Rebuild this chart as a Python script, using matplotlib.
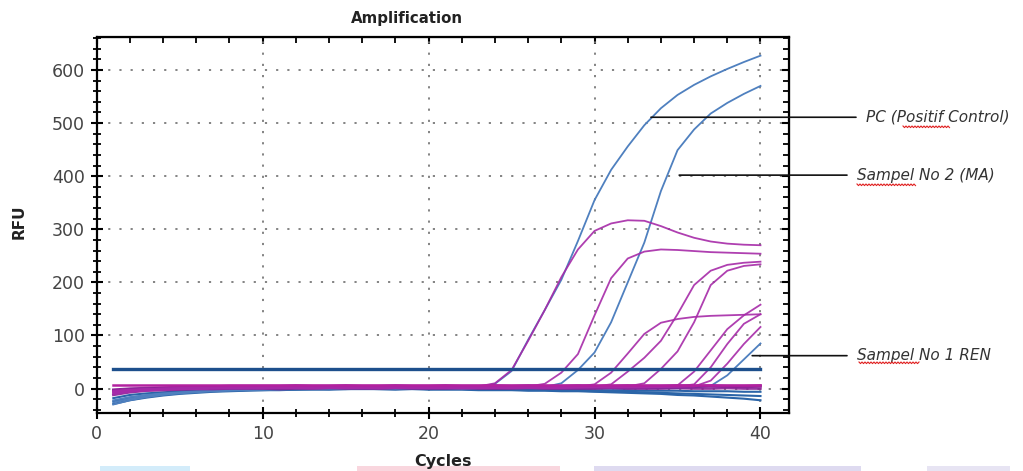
import numpy as np
import matplotlib
matplotlib.use('Agg')
import matplotlib.pyplot as plt
import matplotlib.transforms as mtransforms
from matplotlib.ticker import MultipleLocator
from matplotlib.patches import Rectangle

# Datos (RFU por ciclo, ciclos 1..40)
cycles = list(range(1, 41))

# canal azul (FAM)
pc = [-22, -16, -12, -9, -7, -5, -4, -3, -2, -1,
      -1, 0, 0, 1, 0, 1, 1, 0, 1, 2,
      1, 2, 3, 9, 33, 92, 148, 205, 278, 355,
      412, 456, 496, 528, 553, 572, 588, 602, 615, 627]
ma = [-26, -19, -14, -10, -8, -6, -4, -3, -2, -2,
      -1, -1, 0, 0, 1, 0, 1, 0, 1, 1,
      0, 1, 1, 2, 2, 2, 3, 10, 35, 68,
      125, 200, 275, 372, 449, 488, 518, 538, 555, 570]
ren = [-30, -22, -16, -12, -9, -7, -5, -4, -3, -2,
       -2, -1, -1, 0, -1, 0, 0, 1, 0, 0,
       1, 0, 0, 1, 0, 1, 0, 0, 1, 0,
       0, 1, 0, 1, 1, 2, 5, 25, 55, 85]
blue_neg1 = [-18, -12, -9, -7, -5, -4, -3, -2, -2, -1,
             -1, 0, 0, -1, 0, 0, 1, 0, 0, -1,
             0, 0, -1, 0, -1, -1, -2, -2, -2, -3,
             -3, -3, -4, -4, -4, -5, -5, -5, -6, -6]
blue_neg2 = [-24, -17, -13, -10, -8, -6, -5, -4, -3, -3,
             -2, -2, -1, -1, -1, 0, -1, -1, 0, -1,
             -1, -1, -2, -2, -2, -3, -3, -4, -4, -5,
             -5, -6, -7, -8, -9, -10, -11, -12, -13, -14]
blue_neg3 = [-29, -22, -17, -13, -10, -8, -6, -5, -4, -3,
             -3, -2, -2, -2, -1, -1, -1, -2, -1, -2,
             -2, -2, -3, -3, -3, -4, -4, -5, -5, -6,
             -7, -8, -9, -10, -12, -13, -15, -17, -19, -22]

# canal magenta (HEX)
m1 = [-6, -3, -1, 0, 1, 2, 2, 3, 3, 2,
      3, 3, 2, 3, 3, 2, 3, 3, 2, 3,
      3, 4, 4, 10, 35, 90, 148, 210, 262, 297,
      311, 317, 316, 306, 294, 284, 277, 273, 271, 270]
m2 = [-8, -4, -2, -1, 0, 1, 1, 2, 2, 2,
      2, 3, 2, 2, 3, 2, 3, 2, 2, 3,
      3, 2, 3, 3, 3, 4, 9, 30, 65, 138,
      208, 245, 258, 262, 261, 259, 257, 256, 255, 254]
m3 = [-7, -4, -2, -1, 0, 0, 1, 1, 1, 2,
      1, 2, 2, 1, 2, 2, 2, 1, 2, 2,
      3, 2, 2, 3, 2, 3, 3, 3, 3, 4,
      8, 32, 58, 90, 140, 195, 222, 233, 237, 239]
m4 = [-4, -2, -1, 0, 1, 1, 1, 2, 2, 1,
      2, 2, 2, 3, 2, 2, 3, 2, 2, 2,
      3, 3, 2, 2, 3, 3, 2, 3, 3, 3,
      4, 4, 10, 37, 70, 125, 195, 222, 231, 234]
m5 = [-5, -3, -1, 0, 0, 1, 1, 2, 1, 2,
      2, 2, 1, 2, 2, 3, 2, 2, 3, 2,
      2, 3, 2, 3, 3, 2, 3, 3, 4, 8,
      30, 66, 103, 124, 131, 135, 137, 138, 139, 140]
l1 = [-9, -5, -3, -2, -1, 0, 0, 1, 1, 1,
      1, 2, 1, 1, 2, 1, 2, 2, 1, 2,
      2, 1, 2, 2, 2, 3, 2, 2, 3, 3,
      3, 3, 4, 4, 6, 32, 72, 112, 138, 158]
l2 = [-6, -4, -2, -1, 0, 0, 1, 1, 0, 1,
      1, 1, 2, 1, 1, 2, 1, 1, 2, 1,
      2, 2, 1, 2, 2, 1, 2, 2, 2, 3,
      2, 3, 3, 3, 4, 8, 40, 84, 122, 140]
l3 = [-10, -6, -4, -2, -1, -1, 0, 0, 1, 0,
      1, 1, 0, 1, 1, 1, 0, 1, 1, 1,
      1, 0, 1, 1, 1, 2, 1, 1, 2, 2,
      2, 2, 2, 3, 3, 4, 15, 47, 84, 116]
f1 = [-3, -1, 0, 1, 2, 2, 3, 3, 3, 4, 3, 4, 4, 3, 4, 4, 3, 4, 4, 4,
      3, 4, 4, 3, 4, 4, 4, 3, 4, 4, 3, 4, 4, 4, 3, 4, 4, 4, 3, 4]
f2 = [-12, -7, -4, -3, -2, -1, -1, 0, 0, 0, -1, 0, 0, 1, 0, 0, 0, 1, 0, 0,
      0, 1, 0, 0, 0, 1, 0, 0, 0, 0, 1, 0, 0, 0, 1, 0, 0, 1, 0, 0]
f3 = [-2, 0, 1, 2, 3, 4, 4, 5, 5, 5, 5, 6, 5, 5, 6, 5, 5, 6, 5, 5,
      6, 5, 5, 6, 5, 6, 5, 5, 6, 5, 5, 6, 5, 5, 6, 5, 6, 5, 5, 6]

blue_threshold = 37
hex_threshold = 7

x_ticks = [0, 10, 20, 30, 40]
y_ticks = [0, 100, 200, 300, 400, 500, 600]

# etiquetas con línea guía: (texto, ciclo, RFU)
labels = [
    ("PC (Positif Control)", 33.4, 511),
    ("Sampel No 2 (MA)", 35.1, 402),
    ("Sampel No 1 REN", 39.5, 62),
]

W, H = 1023, 471
fig = plt.figure(figsize=(W / 100, H / 100), dpi=100)
ax = fig.add_axes([96.7 / W, 1 - 412.7 / H, 692 / W, 376 / H])

BLUE = '#4f80bf'
BLUE_DARK = '#2b65a8'
MAG = '#a62aa8'

for s in [blue_neg1, blue_neg2, blue_neg3]:
    ax.plot(cycles, s, color=BLUE_DARK, lw=1.5, zorder=3)
for s in [pc, ma, ren]:
    ax.plot(cycles, s, color=BLUE, lw=1.3, zorder=3)
for s in [f1, f2, f3]:
    ax.plot(cycles, s, color='#8a1f96', lw=1.8, alpha=0.9, zorder=4)
for s in [m1, m2, m3, m4, m5, l1, l2, l3]:
    ax.plot(cycles, s, color=MAG, lw=1.3, alpha=0.9, zorder=4)

ax.plot([cycles[0], cycles[-1]], [blue_threshold] * 2, color='#1d4f8c', lw=2.4, zorder=5)
ax.plot([cycles[0], cycles[-1]], [hex_threshold] * 2, color='#b3219f', lw=1.8, zorder=5)

ax.set_xlim(0, 41.7)
ax.set_ylim(-45.4, 662.7)
ax.xaxis.set_minor_locator(MultipleLocator(2))
ax.yaxis.set_minor_locator(MultipleLocator(20))
ax.set_xticks(x_ticks)
ax.set_yticks(y_ticks)

ax.grid(True, which='major', color='#7a7a7a', lw=1.3, linestyle=(0, (1.2, 5)))
for sp in ax.spines.values():
    sp.set_linewidth(1.6)
ax.tick_params(which='major', direction='inout', length=9, width=1.5,
               labelsize=12.5, labelcolor='#444444', pad=4)
ax.tick_params(which='minor', direction='inout', length=6, width=1.3)

# ticks hacia adentro arriba y a la derecha
axt = ax.secondary_xaxis('top')
axt.xaxis.set_major_locator(MultipleLocator(10))
axt.xaxis.set_minor_locator(MultipleLocator(2))
axt.tick_params(which='major', direction='in', length=5, width=1.5, labeltop=False)
axt.tick_params(which='minor', direction='in', length=4, width=1.3)
axr = ax.secondary_yaxis('right')
axr.yaxis.set_major_locator(MultipleLocator(100))
axr.yaxis.set_minor_locator(MultipleLocator(20))
axr.tick_params(which='major', direction='in', length=5, width=1.5, labelright=False)
axr.tick_params(which='minor', direction='in', length=4, width=1.3)

fig.text(407 / W, 1 - 18 / H, 'Amplification', ha='center', va='center',
         fontsize=10.8, fontweight='bold', color='#222222')
fig.text(19 / W, 1 - 222 / H, 'RFU', ha='center', va='center', rotation=90,
         fontsize=11, fontweight='bold', color='#222222')
fig.text(443 / W, 1 - 469 / H, 'Cycles', ha='center', va='bottom',
         fontsize=11.5, fontweight='bold', color='#222222')

# líneas guía y textos
blend = mtransforms.blended_transform_factory(fig.transFigure, ax.transData)
line_end = [856, 847, 847]
text_x = [866, 857, 857]
for (txt, cx, cy), le, tx in zip(labels, line_end, text_x):
    ax.annotate('', xy=(cx, cy), xycoords='data', xytext=(le / W, cy),
                textcoords=blend, annotation_clip=False,
                arrowprops=dict(arrowstyle='-', color='#111111', lw=1.2,
                                shrinkA=0, shrinkB=0))
    ax.text(tx / W, cy, txt, transform=blend, ha='left', va='center',
            fontsize=11, style='italic', color='#333333', clip_on=False)

# subrayado ondulado rojo (corrector ortográfico)
def squiggle(x0, x1, y):
    xs = np.arange(x0, x1, 1.5)
    ys = y + np.where(np.arange(len(xs)) % 2 == 0, 0.0, 1.6)
    fig.add_artist(plt.Line2D(xs / W, 1 - ys / H, color='#e02020', lw=0.8))

squiggle(903, 950, 126)
squiggle(857, 917, 184)
squiggle(859, 920, 362)

# bandas de color al pie (restos del documento)
for x0, x1, col in [(100, 190, '#d3ecfa'), (357, 560, '#f9d6de'),
                    (594, 861, '#dedaf0'), (927, 1010, '#e7e4f3')]:
    fig.add_artist(Rectangle((x0 / W, 0), (x1 - x0) / W, 5 / H,
                             transform=fig.transFigure, color=col, lw=0))

fig.savefig('out.png', dpi=100)
